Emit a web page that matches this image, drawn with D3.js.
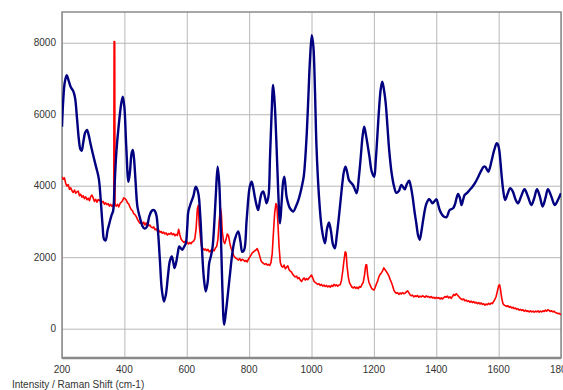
<!DOCTYPE html>
<html>
<head>
<meta charset="utf-8">
<script src="https://cdn.jsdelivr.net/npm/d3@7"></script>
<style>
  html, body { margin: 0; padding: 0; background: #fff; }
  svg { display: block; font-family: "Liberation Sans", Arial, sans-serif; }
</style>
</head>
<body>
<svg id="chart" width="563" height="390"></svg>
<script>
// tick values
var xTicks = [200, 400, 600, 800, 1000, 1200, 1400, 1600, 1800];
var yTicks = [0, 2000, 4000, 6000, 8000];
var axisTitle = "Intensity / Raman Shift (cm-1)";

// blue spectrum [shift, intensity]
var blueSeries = [
  [200,5650],[204,6400],[209,6900],[215,7090],[221,6950],[228,6760],[236,6650],[242,6450],[248,5900],[254,5300],
  [259,5020],[263,4980],[268,5200],[274,5480],[280,5560],[286,5400],[292,5150],[300,4850],[310,4500],[318,4200],
  [325,3500],[330,2900],[335,2500],[340,2470],[346,2750],[352,2950],[358,3150],[364,3300],[368,3900],[374,4900],
  [382,5700],[390,6300],[395,6490],[400,6200],[406,5100],[413,4110],[418,4400],[423,4900],[427,5000],[431,4750],
  [436,4100],[442,3400],[450,3100],[458,2870],[465,2800],[472,2850],[480,3150],[488,3300],[495,3320],[502,3200],
  [508,2700],[514,1900],[520,1100],[527,760],[533,950],[540,1500],[546,1900],[552,2020],[557,1850],[561,1700],
  [566,1850],[571,2100],[576,2300],[581,2250],[586,2210],[592,2300],[597,2390],[602,2900],[605,3280],[613,3510],
  [621,3700],[629,3970],[637,3790],[643,3200],[649,2200],[655,1400],[661,1040],[667,1300],[672,1835],[678,2050],
  [683,2300],[688,2900],[693,3700],[699,4530],[704,4100],[709,2800],[714,1200],[720,110],[726,500],[731,900],
  [739,1555],[746,2100],[754,2490],[765,2720],[772,2450],[778,2150],[784,2200],[792,3040],[802,3970],[808,4110],
  [813,3950],[818,3700],[824,3450],[829,3320],[835,3600],[840,3790],[845,3840],[851,3680],[856,3510],[862,3700],
  [867,4810],[872,6000],[877,6820],[882,6300],[888,5090],[893,3900],[899,2950],[904,3510],[909,4100],[913,4250],
  [920,3700],[926,3480],[931,3370],[942,3280],[950,3420],[958,3600],[965,3820],[970,4020],[975,4250],[979,4630],
  [985,5500],[990,6490],[995,7500],[1001,8210],[1006,7900],[1011,6700],[1016,5100],[1024,3700],[1033,2800],[1043,2390],
  [1050,2800],[1056,2970],[1062,2750],[1069,2350],[1075,2250],[1081,2600],[1088,3140],[1094,3650],[1099,4070],[1104,4400],
  [1109,4530],[1115,4350],[1120,4160],[1127,4080],[1133,4020],[1139,3900],[1145,3790],[1152,4250],[1158,4810],[1164,5400],
  [1169,5650],[1174,5450],[1179,5190],[1186,4800],[1193,4400],[1201,4250],[1206,4700],[1211,5370],[1217,6200],[1222,6700],
  [1227,6910],[1233,6650],[1238,6300],[1244,5600],[1249,5000],[1257,4350],[1265,3970],[1272,3800],[1280,3850],[1288,4020],
  [1294,3960],[1299,3900],[1306,4050],[1313,4140],[1318,4000],[1324,3700],[1330,3300],[1336,2950],[1342,2600],[1347,2490],
  [1352,2700],[1358,3040],[1364,3350],[1369,3510],[1377,3620],[1382,3580],[1388,3510],[1394,3560],[1401,3620],[1406,3480],
  [1411,3320],[1418,3200],[1424,3140],[1433,3120],[1443,3320],[1454,3370],[1460,3480],[1465,3650],[1470,3770],[1476,3650],
  [1481,3460],[1486,3600],[1491,3740],[1499,3800],[1507,3880],[1515,3960],[1524,4070],[1532,4200],[1540,4350],[1546,4450],
  [1552,4530],[1557,4530],[1562,4460],[1567,4390],[1572,4500],[1578,4720],[1586,5000],[1594,5190],[1598,5150],[1602,5000],
  [1606,4650],[1610,4250],[1615,3850],[1621,3600],[1629,3780],[1637,3930],[1645,3850],[1654,3620],[1662,3510],[1672,3700],
  [1683,3900],[1694,3700],[1705,3460],[1714,3650],[1723,3900],[1732,3700],[1741,3420],[1750,3650],[1758,3900],[1769,3700],
  [1780,3460],[1790,3600],[1800,3790]
];

// red spectrum [shift, intensity]
var redSeries = [
  [200,4250],[204,4180],[208,4220],[212,4060],[216,3990],[220,4030],[224,3900],[228,3940],[232,3860],[236,3810],
  [240,3880],[244,3790],[248,3830],[252,3850],[256,3720],[260,3760],[264,3680],[268,3720],[272,3640],[276,3690],
  [280,3610],[284,3650],[288,3580],[292,3700],[296,3740],[300,3660],[304,3560],[308,3620],[312,3540],[316,3610],
  [320,3580],[324,3620],[328,3530],[332,3560],[336,3480],[340,3520],[344,3470],[348,3500],[352,3430],[356,3480],
  [360,3420],[364,3470],[366,3450],[367,8030],[369,8030],[370,3460],[374,3430],[378,3480],[382,3410],[386,3500],
  [390,3540],[394,3580],[398,3660],[402,3640],[406,3600],[410,3520],[414,3490],[418,3400],[422,3330],[426,3300],
  [430,3220],[434,3190],[438,3140],[442,3060],[446,3000],[450,2950],[454,3000],[458,2920],[462,2980],[466,2900],
  [470,2960],[474,2910],[478,2880],[482,2900],[486,2840],[490,2820],[494,2850],[498,2770],[502,2790],[506,2730],
  [510,2760],[514,2700],[518,2720],[522,2670],[526,2700],[530,2650],[534,2680],[538,2620],[542,2660],[546,2640],
  [550,2680],[554,2630],[558,2660],[562,2600],[566,2640],[570,2610],[574,2780],[578,2620],[582,2500],[586,2460],
  [590,2420],[594,2440],[598,2380],[602,2420],[606,2370],[610,2410],[614,2380],[618,2430],[622,2450],[626,2520],
  [630,2800],[634,3350],[637,3450],[640,2900],[644,2550],[648,2280],[652,2240],[656,2200],[660,2230],[664,2180],
  [668,2220],[672,2150],[676,2190],[680,2130],[684,2200],[688,2180],[692,2260],[696,2300],[700,2500],[704,3000],
  [708,3380],[711,3200],[714,2700],[718,2450],[722,2380],[726,2500],[730,2650],[734,2600],[738,2400],[742,2250],
  [746,2180],[750,2050],[754,2000],[758,1970],[762,1950],[766,1920],[770,1960],[774,1900],[778,1940],[782,1920],
  [786,1880],[790,1910],[794,1870],[798,1950],[802,2000],[806,2060],[810,2120],[814,2150],[818,2180],[822,2200],
  [826,2240],[830,2150],[834,2030],[838,1900],[842,1850],[846,1830],[850,1800],[854,1820],[858,1780],[862,1800],
  [866,1770],[870,1850],[874,2100],[878,2700],[882,3250],[886,3500],[889,3450],[892,3000],[896,2300],[900,1850],
  [904,1750],[908,1720],[912,1780],[916,1680],[920,1720],[924,1760],[928,1650],[932,1610],[936,1580],[940,1520],
  [944,1480],[948,1450],[952,1470],[956,1400],[960,1430],[964,1360],[968,1320],[972,1380],[976,1420],[980,1360],
  [984,1400],[988,1370],[992,1420],[996,1460],[1000,1500],[1004,1420],[1008,1330],[1012,1290],[1016,1270],[1020,1240],
  [1024,1260],[1028,1210],[1032,1240],[1036,1190],[1040,1220],[1044,1180],[1048,1210],[1052,1170],[1056,1200],[1060,1160],
  [1064,1210],[1068,1180],[1072,1240],[1076,1200],[1080,1230],[1084,1190],[1088,1220],[1092,1230],[1096,1350],[1100,1600],
  [1104,1900],[1108,2150],[1111,2120],[1114,1750],[1118,1450],[1122,1280],[1126,1220],[1130,1160],[1134,1140],[1138,1170],
  [1142,1130],[1146,1160],[1150,1120],[1154,1180],[1158,1160],[1162,1240],[1166,1300],[1170,1500],[1174,1780],[1177,1790],
  [1180,1500],[1184,1300],[1188,1220],[1192,1140],[1196,1100],[1200,1080],[1204,1150],[1208,1250],[1212,1330],[1216,1450],
  [1220,1520],[1224,1560],[1228,1620],[1232,1700],[1236,1650],[1240,1600],[1244,1540],[1248,1480],[1252,1380],[1256,1300],
  [1260,1200],[1264,1080],[1268,1020],[1272,990],[1276,1010],[1280,960],[1284,1000],[1288,970],[1292,1010],[1296,980],
  [1300,990],[1304,1030],[1308,1060],[1312,1010],[1316,950],[1320,920],[1324,940],[1328,890],[1332,920],[1336,900],
  [1340,930],[1344,880],[1348,910],[1352,890],[1356,920],[1360,900],[1364,880],[1368,920],[1372,890],[1376,900],
  [1380,870],[1384,900],[1388,860],[1392,880],[1396,850],[1400,880],[1404,850],[1408,870],[1412,830],[1416,860],
  [1420,830],[1424,870],[1428,900],[1432,880],[1436,910],[1440,860],[1444,890],[1448,850],[1452,900],[1456,960],
  [1460,930],[1464,980],[1468,940],[1472,900],[1476,860],[1480,830],[1484,810],[1488,830],[1492,780],[1496,800],
  [1500,760],[1504,780],[1508,740],[1512,770],[1516,730],[1520,760],[1524,720],[1528,740],[1532,700],[1536,730],
  [1540,690],[1544,720],[1548,680],[1552,700],[1556,660],[1560,690],[1564,670],[1568,710],[1572,680],[1576,720],
  [1580,700],[1584,760],[1588,820],[1592,900],[1596,1050],[1600,1200],[1603,1230],[1606,1100],[1610,850],[1614,700],
  [1618,660],[1622,640],[1626,620],[1630,640],[1634,600],[1638,620],[1642,580],[1646,600],[1650,560],[1654,580],
  [1658,540],[1662,560],[1666,520],[1670,540],[1674,510],[1678,530],[1682,490],[1686,520],[1690,480],[1694,500],
  [1698,470],[1702,500],[1706,470],[1710,490],[1714,460],[1718,490],[1722,470],[1726,500],[1730,460],[1734,490],
  [1738,470],[1742,500],[1746,480],[1750,520],[1754,490],[1758,530],[1762,510],[1766,480],[1770,500],[1774,470],
  [1778,490],[1782,450],[1786,440],[1790,420],[1794,430],[1798,400],[1800,410]
];

var svg = d3.select("#chart");
var margin = { top: 12, right: 2, bottom: 32, left: 62 },
  width = +svg.attr("width") - margin.left - margin.right,
  height = +svg.attr("height") - margin.top - margin.bottom;

var x = d3.scaleLinear().domain([200, 1800]).range([0, width]);
var y = d3.scaleLinear().domain([-820, 8860]).range([height, 0]);

var g = svg.append("g")
  .attr("transform", "translate(" + margin.left + "," + margin.top + ")");

// grid
g.append("g")
  .attr("class", "grid")
  .call(d3.axisLeft(y).tickValues(yTicks).tickSize(-width).tickFormat(""))
  .call(function (s) { s.select(".domain").remove(); })
  .selectAll("line").attr("stroke", "#b8b8b8");

g.append("g")
  .attr("class", "grid")
  .attr("transform", "translate(0," + height + ")")
  .call(d3.axisBottom(x).tickValues(xTicks).tickSize(-height).tickFormat(""))
  .call(function (s) { s.select(".domain").remove(); })
  .selectAll("line").attr("stroke", "#b8b8b8");

// frame
g.append("rect")
  .attr("width", width)
  .attr("height", height)
  .attr("fill", "none")
  .attr("stroke", "#8a8a8a")
  .attr("stroke-width", 1.5);

var clip = svg.append("clipPath").attr("id", "plot-clip")
  .append("rect").attr("width", width).attr("height", height);

var plot = g.append("g").attr("clip-path", "url(#plot-clip)");

var redLine = d3.line()
  .x(function (d) { return x(d[0]); })
  .y(function (d) { return y(d[1]); });

var blueLine = d3.line()
  .curve(d3.curveCatmullRom.alpha(0.5))
  .x(function (d) { return x(d[0]); })
  .y(function (d) { return y(d[1]); });

plot.append("path")
  .datum(redSeries)
  .attr("fill", "none")
  .attr("stroke", "#ff0000")
  .attr("stroke-width", 1.6)
  .attr("stroke-linejoin", "round")
  .attr("d", redLine);

plot.append("path")
  .datum(blueSeries)
  .attr("fill", "none")
  .attr("stroke", "#000080")
  .attr("stroke-width", 2.4)
  .attr("stroke-linejoin", "round")
  .attr("d", blueLine);

// bottom axis line
g.append("line")
  .attr("x1", 0).attr("x2", width)
  .attr("y1", height).attr("y2", height)
  .attr("stroke", "#8a8a8a")
  .attr("stroke-width", 2.5);

// tick labels
g.append("g")
  .selectAll("text")
  .data(yTicks)
  .enter().append("text")
  .attr("x", -6)
  .attr("y", function (d) { return y(d); })
  .attr("dy", "0.35em")
  .attr("text-anchor", "end")
  .attr("font-size", 10)
  .attr("fill", "#333")
  .text(function (d) { return d; });

g.append("g")
  .selectAll("text")
  .data(xTicks)
  .enter().append("text")
  .attr("x", function (d) { return x(d); })
  .attr("y", height + 15)
  .attr("text-anchor", "middle")
  .attr("font-size", 10)
  .attr("fill", "#333")
  .text(function (d) { return d; });

svg.append("text")
  .attr("x", 12)
  .attr("y", 388)
  .attr("font-size", 10)
  .attr("fill", "#333")
  .text(axisTitle);
</script>
</body>
</html>
